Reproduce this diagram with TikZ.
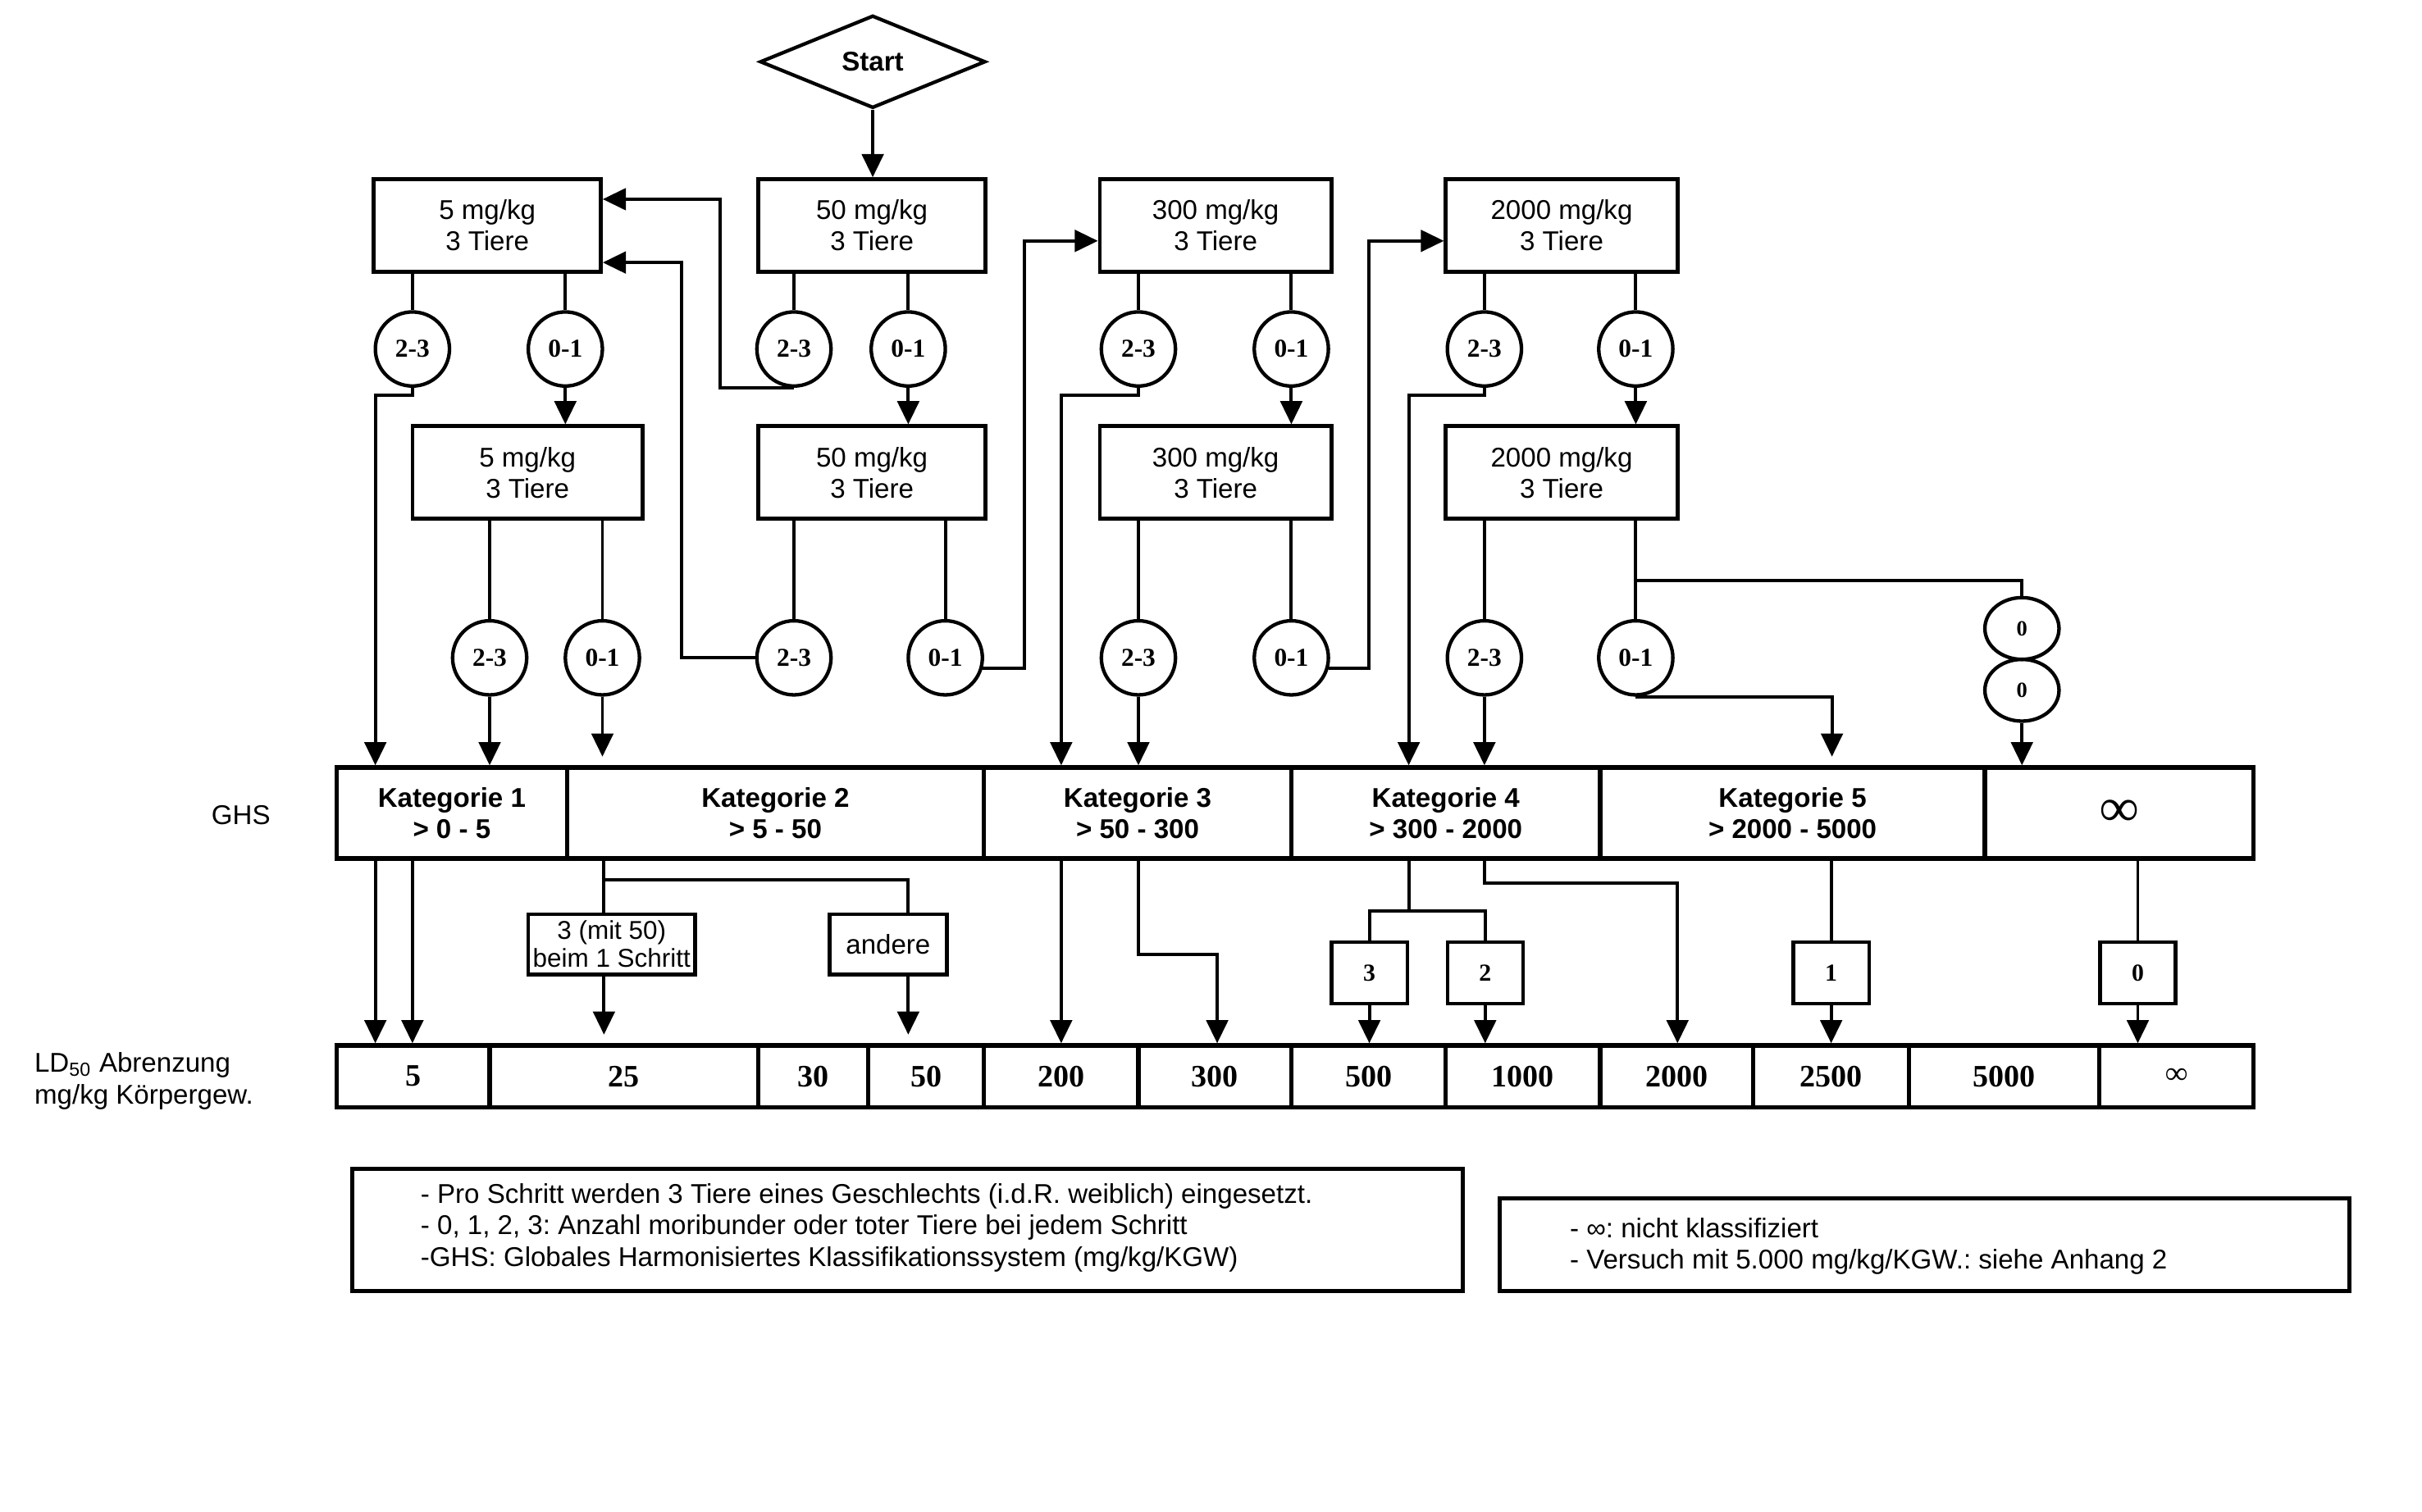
\documentclass[tikz,border=0pt]{standalone}
\usepackage{fontspec}
\setmainfont{Liberation Sans}
\newfontfamily\tnr{Liberation Serif}
\usetikzlibrary{arrows.meta,shapes.geometric}
\frenchspacing
\tikzset{
  ln/.style={line width=1.2pt},
  arr/.style={line width=1.2pt,-{Triangle[length=0.3cm,width=0.28cm]}},
  dose/.style={draw,line width=1.4pt,inner sep=0pt,align=center,minimum height=1.2cm,font=\fontsize{10}{11.5}\selectfont},
  res/.style={draw,circle,line width=1.3pt,inner sep=0pt,minimum size=0.96cm,font=\tnr\bfseries\fontsize{9.5}{10}\selectfont},
  zero/.style={draw,ellipse,line width=1.3pt,inner sep=0pt,minimum width=0.96cm,minimum height=0.8cm,font=\tnr\bfseries\fontsize{8}{9}\selectfont},
  cat/.style={draw,line width=1.6pt,inner sep=0pt,align=center,minimum height=1.18cm,font=\bfseries\fontsize{10}{11.5}\selectfont},
  ld/.style={draw,line width=1.6pt,inner sep=0pt,minimum height=0.8cm,font=\tnr\bfseries\fontsize{11.5}{12}\selectfont},
  num/.style={draw,line width=1.3pt,inner sep=0pt,minimum width=0.98cm,minimum height=0.8cm,font=\tnr\bfseries\fontsize{9}{10}\selectfont},
  sub/.style={draw,line width=1.3pt,inner sep=0pt,align=center,minimum height=0.78cm,font=\fontsize{9.5}{10.2}\selectfont},
  notebox/.style={draw,line width=1.4pt,inner sep=0pt},
  lbl/.style={inner sep=0pt,align=left,font=\fontsize{10}{11.6}\selectfont}
}
\begin{document}
\begin{tikzpicture}[x=0.02cm,y=-0.02cm]
\useasboundingbox (0,0) rectangle (1568,979);

% start
\node[diamond,draw,line width=1.3pt,minimum width=2.92cm,minimum height=1.2cm,inner sep=0pt,font=\bfseries\fontsize{10}{12}\selectfont] (start) at (565,40) {\raisebox{-0.4ex}{Start}};

% dose boxes
\node[dose,minimum width=2.94cm] (B5a) at (315.5,146) {5 mg/kg\\3 Tiere};
\node[dose,minimum width=2.94cm] (B50a) at (564.5,146) {50 mg/kg\\3 Tiere};
\node[dose,minimum width=3.0cm] (B300a) at (787,146) {300 mg/kg\\3 Tiere};
\node[dose,minimum width=3.0cm] (B2000a) at (1011,146) {2000 mg/kg\\3 Tiere};
\node[dose,minimum width=2.98cm] (B5b) at (341.5,306) {5 mg/kg\\3 Tiere};
\node[dose,minimum width=2.94cm] (B50b) at (564.5,306) {50 mg/kg\\3 Tiere};
\node[dose,minimum width=3.0cm] (B300b) at (787,306) {300 mg/kg\\3 Tiere};
\node[dose,minimum width=3.0cm] (B2000b) at (1011,306) {2000 mg/kg\\3 Tiere};

% result circles
\node[res] (c1a) at (267,226) {2-3};
\node[res] (c1b) at (366,226) {0-1};
\node[res] (c2a) at (514,226) {2-3};
\node[res] (c2b) at (588,226) {0-1};
\node[res] (c3a) at (737,226) {2-3};
\node[res] (c3b) at (836,226) {0-1};
\node[res] (c4a) at (961,226) {2-3};
\node[res] (c4b) at (1059,226) {0-1};
\node[res] (d1a) at (317,426) {2-3};
\node[res] (d1b) at (390,426) {0-1};
\node[res] (d2a) at (514,426) {2-3};
\node[res] (d2b) at (612,426) {0-1};
\node[res] (d3a) at (737,426) {2-3};
\node[res] (d3b) at (836,426) {0-1};
\node[res] (d4a) at (961,426) {2-3};
\node[res] (d4b) at (1059,426) {0-1};
\node[zero] (z1) at (1309,407) {0};
\node[zero] (z2) at (1309,447) {0};

% GHS categories
\node[cat,minimum width=2.98cm] (K1) at (292.5,526.5) {Kategorie 1\\> 0 - 5};
\node[cat,minimum width=5.40cm] (K2) at (502,526.5) {Kategorie 2\\> 5 - 50};
\node[cat,minimum width=3.98cm] (K3) at (736.5,526.5) {Kategorie 3\\> 50 - 300};
\node[cat,minimum width=4.00cm] (K4) at (936,526.5) {Kategorie 4\\> 300 - 2000};
\node[cat,minimum width=4.98cm] (K5) at (1160.5,526.5) {Kategorie 5\\> 2000 - 5000};
\node[cat,minimum width=3.48cm,font=\tnr\bfseries\fontsize{20}{20}\selectfont] (K6) at (1372,526.5) {\raisebox{-0.3ex}{∞}};

% intermediate boxes
\node[sub,minimum width=2.16cm] (m50) at (396,611.5) {3 (mit 50)\\beim 1 Schritt};
\node[sub,minimum width=1.52cm,font=\fontsize{10}{11}\selectfont] (andere) at (575,611.5) {andere};
\node[num] (b3) at (886.5,630) {3};
\node[num] (b2) at (961.5,630) {2};
\node[num] (b1) at (1185.5,630) {1};
\node[num] (b0) at (1384,630) {0};

% LD50 bar
\node[ld,minimum width=1.98cm] (L1) at (267.5,697) {5};
\node[ld,minimum width=3.48cm] (L2) at (404,697) {25};
\node[ld,minimum width=1.42cm] (L3) at (526.5,697) {30};
\node[ld,minimum width=1.50cm] (L4) at (599.5,697) {50};
\node[ld,minimum width=2.00cm] (L5) at (687,697) {200};
\node[ld,minimum width=1.98cm] (L6) at (786.5,697) {300};
\node[ld,minimum width=2.00cm] (L7) at (886,697) {500};
\node[ld,minimum width=2.00cm] (L8) at (986,697) {1000};
\node[ld,minimum width=1.98cm] (L9) at (1085.5,697) {2000};
\node[ld,minimum width=2.02cm] (L10) at (1185.5,697) {2500};
\node[ld,minimum width=2.46cm] (L11) at (1297.5,697) {5000};
\node[ld,minimum width=2.00cm] (L12) at (1409,697) {\raisebox{-0.5ex}{∞}};

% side labels
\node[lbl] (ghs) at (156,528) {GHS};
\node[lbl,anchor=west] (ldlab) at (22,700) {LD\textsubscript{50} Abrenzung\\mg/kg Körpergew.};

% notes
\node[notebox,minimum width=14.38cm,minimum height=1.58cm] (note1) at (587.5,796.5) {};
\node[lbl,anchor=west] (note1t) at (272,795) {- Pro Schritt werden 3 Tiere eines Geschlechts (i.d.R. weiblich) eingesetzt.\\- 0, 1, 2, 3: Anzahl moribunder oder toter Tiere bei jedem Schritt\\-GHS: Globales Harmonisiertes Klassifikationssystem (mg/kg/KGW)};
\node[notebox,minimum width=11.0cm,minimum height=1.2cm] (note2) at (1246,806) {};
\node[lbl,anchor=west] (note2t) at (1016,807) {- ∞: nicht klassifiziert\\- Versuch mit 5.000 mg/kg/KGW.: siehe Anhang 2};

% ---- connectors, top part
\draw[arr] (start.south) -- (start.south |- B50a.north);
\draw[ln] (B5a.south -| c1a) -- (c1a.north);
\draw[ln] (B5a.south -| c1b) -- (c1b.north);
\draw[arr] (c1b.south) -- (B5b.north -| c1b);
\draw[arr] (c1a.south) -- ++(0,5) -| (K1.north -| 243,0);
\draw[ln] (B50a.south -| c2a) -- (c2a.north);
\draw[ln] (B50a.south -| c2b) -- (c2b.north);
\draw[arr] (c2b.south) -- (B50b.north -| c2b);
\draw[arr] (c2a.south) -| (466,129) -- (B5a.east |- 0,129);
\draw[ln] (B300a.south -| c3a) -- (c3a.north);
\draw[ln] (B300a.south -| c3b) -- (c3b.north);
\draw[arr] (c3b.south) -- (B300b.north -| c3b);
\draw[arr] (c3a.south) -- ++(0,5) -| (K3.north -| 687,0);
\draw[ln] (B2000a.south -| c4a) -- (c4a.north);
\draw[ln] (B2000a.south -| c4b) -- (c4b.north);
\draw[arr] (c4b.south) -- (B2000b.north -| c4b);
\draw[arr] (c4a.south) -- ++(0,5) -| (K4.north -| 912,0);

% ---- connectors, second row
\draw[ln] (B5b.south -| d1a) -- (d1a.north);
\draw[arr] (d1a.south) -- (K1.north -| d1a);
\draw[ln] (B5b.south -| d1b) -- (d1b.north);
\draw[arr] (d1b.south) -- (d1b.south |- 0,490);
\draw[ln] (B50b.south -| d2a) -- (d2a.north);
\draw[arr] (d2a.west) -| (441,170) -- (B5a.east |- 0,170);
\draw[ln] (B50b.south -| d2b) -- (d2b.north);
\draw[arr] (d2b.-15) -| (663,156) -- (B300a.west |- 0,156);
\draw[ln] (B300b.south -| d3a) -- (d3a.north);
\draw[arr] (d3a.south) -- (K3.north -| d3a);
\draw[ln] (B300b.south -| d3b) -- (d3b.north);
\draw[arr] (d3b.-15) -| (886,156) -- (B2000a.west |- 0,156);
\draw[ln] (B2000b.south -| d4a) -- (d4a.north);
\draw[arr] (d4a.south) -- (K4.north -| d4a);
\draw[ln] (B2000b.south -| d4b) -- (d4b.north);
\draw[ln] (d4b.north |- 0,376) -| (z1.north);
\draw[arr] (d4b.south) -| (1186,490);
\draw[arr] (z2.south) -- (K6.north -| z2);

% ---- connectors below GHS
\draw[arr] (K1.south -| 243,0) -- (L1.north -| 243,0);
\draw[arr] (K1.south -| 267,0) -- (L1.north -| 267,0);
\draw[ln] (K2.south -| 391,0) -- (m50.north -| 391,0);
\draw[ln] (391,570) -| (andere.north -| 588,0);
\draw[arr] (m50.south -| 391,0) -- (391,670);
\draw[arr] (andere.south -| 588,0) -- (588,670);
\draw[arr] (K3.south -| 687,0) -- (L5.north -| 687,0);
\draw[arr] (K3.south -| 737,0) |- (788,618) -- (L6.north -| 788,0);
\draw[ln] (K4.south -| 912,0) -- (912,590);
\draw[ln] (b3.north) -- (b3.north |- 0,590) -- (b2.north |- 0,590) -- (b2.north);
\draw[arr] (b3.south) -- (L7.north -| b3.south);
\draw[arr] (b2.south) -- (L8.north -| b2.south);
\draw[arr] (K4.south -| 961,0) |- (1086,572) -- (L9.north -| 1086,0);
\draw[ln] (K5.south -| b1) -- (b1.north);
\draw[arr] (b1.south) -- (L10.north -| b1.south);
\draw[ln] (K6.south -| b0) -- (b0.north);
\draw[arr] (b0.south) -- (L12.north -| b0.south);
\end{tikzpicture}
\end{document}
